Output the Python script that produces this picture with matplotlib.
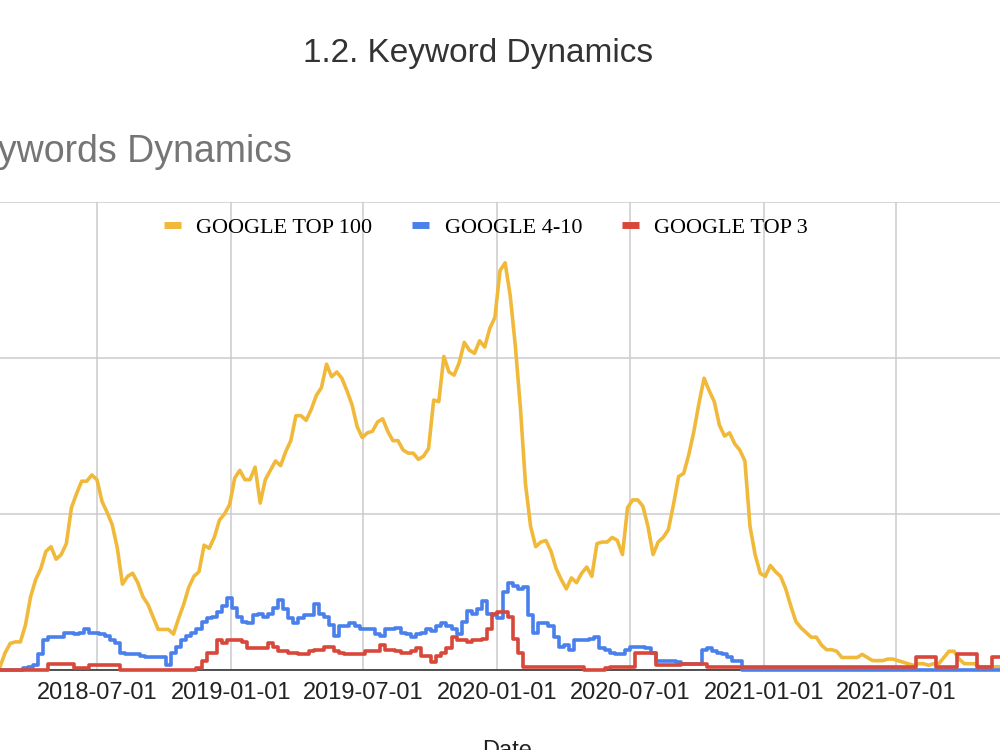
import pandas as pd
import matplotlib
matplotlib.use('Agg')
import matplotlib.pyplot as plt
from matplotlib.lines import Line2D

# weekly values, first week 2018-02-18
start = '2018-02-18'

top100 = [2, 11, 17, 18, 18, 29, 47, 58, 65, 76,
          79, 71, 74, 81, 104, 113, 121, 121, 125, 122,
          108, 101, 93, 78, 55, 60, 62, 56, 47, 42,
          34, 26, 26, 26, 23, 33, 42, 53, 60, 63,
          80, 78, 85, 96, 100, 106, 123, 128, 122, 122,
          130, 107, 122, 128, 134, 131, 140, 147, 163, 163,
          160, 167, 176, 181, 196, 188, 191, 187, 179, 170,
          156, 149, 152, 153, 159, 161, 153, 147, 147, 141,
          139, 139, 135, 137, 142, 173, 172, 201, 191, 189,
          197, 210, 205, 203, 211, 207, 219, 226, 256, 261,
          240, 208, 168, 119, 92, 79, 82, 83, 76, 65,
          58, 52, 59, 56, 62, 66, 60, 81, 82, 82,
          85, 83, 74, 104, 109, 109, 105, 92, 74, 82,
          85, 90, 106, 124, 126, 138, 153, 171, 187, 179,
          172, 157, 150, 152, 145, 141, 134, 92, 74, 62,
          60, 67, 63, 60, 52, 41, 31, 27, 24, 21,
          21, 16, 13, 13, 12, 8, 8, 8, 8, 10,
          8, 6, 6, 6, 7, 7, 6, 5, 4, 3,
          4, 4, 3, 4, 4, 8, 12, 12, 7, 4,
          4, 4, 2, 2, 2, 2, 2]

g4_10 = [0, 0, 0, 0, 0, 1, 2, 3, 10, 19,
         21, 21, 21, 24, 24, 23, 24, 26, 24, 24,
         23, 22, 19, 17, 11, 10, 10, 10, 9, 8,
         8, 8, 8, 3, 11, 15, 19, 22, 24, 26,
         31, 33, 34, 37, 41, 46, 40, 34, 31, 30,
         35, 36, 34, 36, 40, 45, 39, 33, 30, 33,
         35, 35, 42, 36, 34, 29, 22, 28, 28, 30,
         28, 26, 26, 26, 23, 22, 26, 26, 27, 24,
         23, 21, 23, 24, 26, 25, 28, 30, 28, 26,
         23, 31, 38, 36, 39, 44, 36, 35, 33, 50,
         56, 54, 52, 53, 35, 24, 30, 30, 28, 21,
         15, 16, 13, 19, 19, 19, 20, 21, 14, 13,
         11, 10, 10, 13, 15, 15, 15, 14, 11, 6,
         6, 6, 6, 5, 4, 4, 4, 4, 13, 14,
         12, 11, 10, 8, 6, 6, 0, 0, 0, 0,
         0, 0, 0, 0, 0, 0, 0, 0, 0, 0,
         0, 0, 0, 0, 0, 0, 0, 0, 0, 0,
         0, 0, 0, 0, 0, 0, 0, 0, 0, 0,
         0, 0, 0, 0, 0, 0, 0, 0, 0, 0,
         0, 0, 0, 0, 0, 0, 0]

top3 = [0, 0, 0, 0, 0, 0, 0, 0, 0, 0,
        4, 4, 4, 4, 4, 1, 1, 1, 3, 3,
        3, 3, 3, 3, 0, 0, 0, 0, 0, 0,
        0, 0, 0, 0, 0, 0, 0, 0, 0, 1,
        6, 11, 11, 19, 17, 19, 19, 19, 18, 14,
        14, 14, 14, 17, 15, 12, 12, 11, 11, 10,
        10, 12, 13, 13, 15, 15, 12, 11, 10, 10,
        10, 10, 12, 12, 12, 16, 13, 13, 12, 11,
        11, 12, 14, 9, 9, 5, 9, 11, 14, 21,
        19, 19, 18, 19, 19, 20, 26, 36, 37, 37,
        34, 20, 11, 2, 2, 2, 2, 2, 2, 2,
        2, 2, 2, 2, 2, 0, 0, 0, 0, 1,
        2, 2, 2, 2, 2, 11, 11, 11, 11, 3,
        3, 3, 3, 3, 4, 4, 4, 4, 4, 2,
        2, 2, 2, 2, 2, 2, 2, 2, 2, 2,
        2, 2, 2, 2, 2, 2, 2, 2, 2, 2,
        2, 2, 2, 2, 2, 2, 2, 2, 2, 2,
        2, 2, 2, 2, 2, 2, 2, 2, 2, 2,
        8, 8, 8, 8, 2, 2, 2, 2, 10, 10,
        10, 10, 2, 2, 2, 8, 8]

tick_dates = ['2018-07-01', '2019-01-01', '2019-07-01', '2020-01-01',
              '2020-07-01', '2021-01-01', '2021-07-01']
series_names = ['GOOGLE TOP 100', 'GOOGLE 4-10', 'GOOGLE TOP 3']
colors = ['#F1B93A', '#4A80EC', '#D8483A']

dates = pd.date_range(start, periods=len(top100), freq='7D')

plt.rcParams['font.family'] = ['Liberation Sans', 'DejaVu Sans']

fig = plt.figure(figsize=(10, 7.5), dpi=100)
ax = fig.add_axes([0, 0.1067, 1, 0.624])

ax.plot(dates, top100, color=colors[0], lw=2.6, clip_on=False, zorder=3)
ax.plot(dates, g4_10, color=colors[1], lw=2.6, drawstyle='steps-mid', clip_on=False, zorder=4)
ax.plot(dates, top3, color=colors[2], lw=2.6, drawstyle='steps-mid', clip_on=False, zorder=5)

ax.set_xlim(pd.Timestamp('2018-02-18'), pd.Timestamp('2021-11-21'))
ax.set_ylim(0, 300)
ax.set_yticks([0, 100, 200, 300])
ax.set_yticklabels([])
ax.set_xticks(pd.to_datetime(tick_dates))
ax.set_xticklabels(tick_dates)
ax.tick_params(axis='both', length=0)
ax.tick_params(axis='x', pad=9, labelsize=17, labelcolor='#222222')
ax.grid(True, color='#cccccc', lw=1.1, zorder=0)
ax.set_axisbelow(True)
for s in ['left', 'right', 'top']:
    ax.spines[s].set_visible(False)
ax.spines['bottom'].set_color('#333333')
ax.spines['bottom'].set_linewidth(1.2)
ax.spines['bottom'].set_zorder(2)

fig.text(0.478, 0.9173, '1.2. Keyword Dynamics', ha='center', va='baseline',
         fontsize=24, color='#333333')
# chart title is cut by the left edge in the reference screenshot
fig.text(0.292, 0.784, 'Keywords Dynamics', ha='right', va='baseline',
         fontsize=27, color='#757575')
fig.text(0.507, 0.013, 'Date', ha='center', va='top', fontsize=17, color='#222222')

handles = [Line2D([], [], color=c, lw=5, solid_capstyle='butt') for c in colors]
fig.legend(handles, series_names, loc='center', bbox_to_anchor=(0.486, 0.697),
           ncol=3, frameon=False, prop={'family': 'Liberation Serif', 'size': 16},
           handlelength=0.75, handletextpad=0.7, columnspacing=1.8)

fig.savefig('out.png', dpi=100)
